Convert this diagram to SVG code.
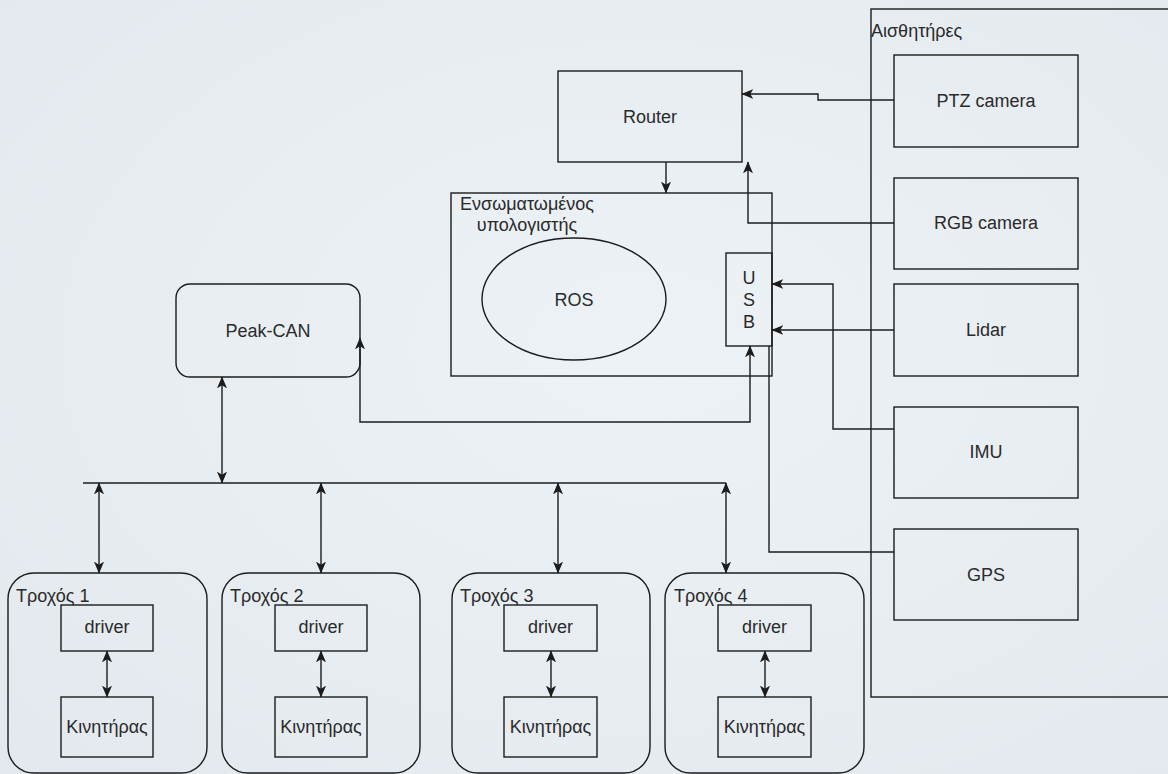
<svg xmlns="http://www.w3.org/2000/svg" width="1168" height="774" viewBox="0 0 1168 774">
<defs>
<style>
.box{fill:none;stroke:#1c1c1c;stroke-width:1.4}
.t{font-family:"Liberation Sans",Arial,sans-serif;font-size:18px;fill:#2a2a2a}
.m{text-anchor:middle}
.c{fill:none;stroke:#1c1c1c;stroke-width:1.4}
.a1{marker-end:url(#arr)}
.a2{marker-start:url(#arr);marker-end:url(#arr)}
</style>
<marker id="arr" viewBox="0 0 10 10" refX="9.5" refY="5" markerWidth="12" markerHeight="12" markerUnits="userSpaceOnUse" orient="auto-start-reverse">
<path d="M0,0.8 L10,5 L0,9.2 L2.6,5 Z" fill="#1c1c1c"/>
</marker>
<radialGradient id="bg" cx="0.55" cy="0.45" r="0.8">
<stop offset="0" stop-color="#edf2f6"/>
<stop offset="1" stop-color="#e2e8ed"/>
</radialGradient>
</defs>
<rect x="0" y="0" width="1168" height="774" fill="url(#bg)"/>

<g id="sensors">
<rect class="box" x="871" y="9" width="320" height="688"/>
<text class="t" x="871" y="37">Αισθητήρες</text>
</g>
<g id="ptz"><rect class="box" x="894" y="55" width="184" height="92"/><text class="t m" x="986" y="107">PTZ camera</text></g>
<g id="rgb"><rect class="box" x="894" y="178" width="184" height="91"/><text class="t m" x="986" y="229">RGB camera</text></g>
<g id="lidar"><rect class="box" x="894" y="284" width="184" height="92"/><text class="t m" x="986" y="336">Lidar</text></g>
<g id="imu"><rect class="box" x="894" y="407" width="184" height="91"/><text class="t m" x="986" y="458">IMU</text></g>
<g id="gps"><rect class="box" x="894" y="529" width="184" height="91"/><text class="t m" x="986" y="581">GPS</text></g>

<g id="router"><rect class="box" x="558" y="71" width="184" height="91"/><text class="t m" x="650" y="123">Router</text></g>

<g id="embedded">
<rect class="box" x="451" y="193" width="321" height="183"/>
<text class="t m" x="527" y="210">Ενσωματωμένος</text>
<text class="t m" x="527" y="231">υπολογιστής</text>
</g>
<g id="ros"><ellipse class="box" cx="574" cy="299" rx="92" ry="61"/><text class="t m" x="574" y="306">ROS</text></g>
<g id="usb">
<rect class="box" x="726" y="253" width="46" height="93"/>
<text class="t m" x="749" y="284">U</text>
<text class="t m" x="749" y="306">S</text>
<text class="t m" x="749" y="328">B</text>
</g>

<g id="peakcan"><rect class="box" x="176" y="284" width="184" height="93" rx="14"/><text class="t m" x="268" y="337">Peak-CAN</text></g>

<g id="wheel1">
<rect class="box" x="8" y="573" width="199" height="200" rx="26"/>
<text class="t" x="16" y="602">Τροχός 1</text>
<rect class="box" x="61" y="605" width="92" height="46"/><text class="t m" x="107" y="633">driver</text>
<rect class="box" x="61" y="697" width="92" height="60"/><text class="t m" x="107" y="733">Κινητήρας</text>
</g>
<g id="wheel2">
<rect class="box" x="222" y="573" width="198" height="200" rx="26"/>
<text class="t" x="230" y="602">Τροχός 2</text>
<rect class="box" x="275" y="605" width="92" height="46"/><text class="t m" x="321" y="633">driver</text>
<rect class="box" x="275" y="697" width="92" height="60"/><text class="t m" x="321" y="733">Κινητήρας</text>
</g>
<g id="wheel3">
<rect class="box" x="452" y="573" width="198" height="200" rx="26"/>
<text class="t" x="460" y="602">Τροχός 3</text>
<rect class="box" x="504" y="605" width="93" height="46"/><text class="t m" x="550.5" y="633">driver</text>
<rect class="box" x="504" y="697" width="93" height="60"/><text class="t m" x="550.5" y="733">Κινητήρας</text>
</g>
<g id="wheel4">
<rect class="box" x="665" y="573" width="199" height="200" rx="26"/>
<text class="t" x="674" y="602">Τροχός 4</text>
<rect class="box" x="718" y="605" width="93" height="46"/><text class="t m" x="764.5" y="633">driver</text>
<rect class="box" x="718" y="697" width="93" height="60"/><text class="t m" x="764.5" y="733">Κινητήρας</text>
</g>

<g id="connectors">
<path class="c a1" d="M894,100 H818 V94 H742"/>
<path class="c a1" d="M894,223 H748 V162"/>
<path class="c a1" d="M666,162 V193"/>
<path class="c a1" d="M894,330 H772"/>
<path class="c a1" d="M894,429 H833 V284 H772"/>
<path class="c" d="M894,552 H769 V346"/>
<path class="c a2" d="M360,338 V422 H750 V346"/>
<path class="c a2" d="M222,377 V483"/>
<path class="c" d="M83,483 H726"/>
<path class="c a2" d="M99,483 V573"/>
<path class="c a2" d="M321,483 V573"/>
<path class="c a2" d="M558,483 V573"/>
<path class="c a2" d="M726,483 V573"/>
<path class="c a2" d="M107,651 V697"/>
<path class="c a2" d="M321,651 V697"/>
<path class="c a2" d="M551,651 V697"/>
<path class="c a2" d="M765,651 V697"/>
</g>
</svg>
